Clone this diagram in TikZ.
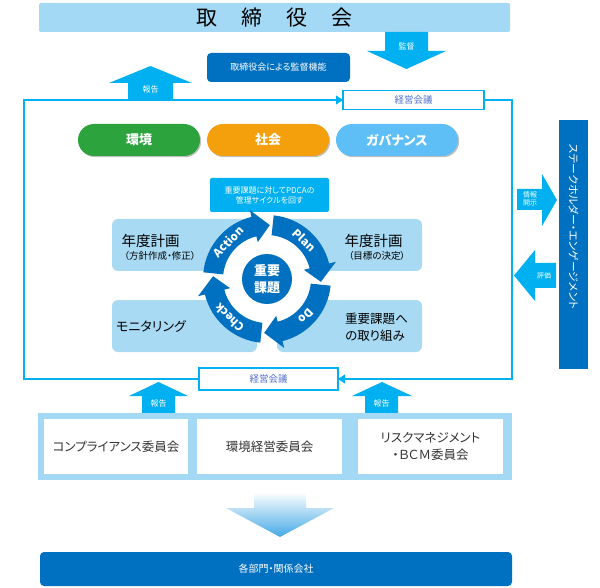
\documentclass[tikz,border=0pt]{standalone}
\usepackage{fontspec}
\setmainfont{Noto Sans CJK JP}[RawFeature={+palt}]
\usetikzlibrary{arrows.meta,shadows}
\definecolor{lb}{HTML}{A4D9F5}
\definecolor{qb}{HTML}{A8DAF4}
\definecolor{cy}{HTML}{00B0F0}
\definecolor{dk}{HTML}{0070C0}
\definecolor{gr}{HTML}{2CA33C}
\definecolor{og}{HTML}{F4A00C}
\definecolor{pb}{HTML}{5EBFF7}
\definecolor{kg}{HTML}{4F6FCB}
\definecolor{gb}{HTML}{45A9E6}
\definecolor{tx}{HTML}{333333}
\begin{document}
\begin{tikzpicture}[x=1pt,y=-1pt,
  rbox/.style={inner sep=0pt, outer sep=0pt, minimum width=#1},
  frame/.style={draw=cy, line width=1.2pt},
  ftip/.style={-{Triangle[length=7pt,width=9pt]}},
  wlab/.style={text=white, font=\fontsize{8}{9.5}\selectfont, align=center, inner sep=0pt},
  pill/.style={rbox=122pt, minimum height=32pt, rounded corners=16pt, text=white,
    font=\bfseries\fontsize{13}{15}\selectfont,
    drop shadow={shadow xshift=1.2pt, shadow yshift=-1.2pt, fill=black, opacity=.25}},
  quad/.style={rbox=#1, minimum height=52pt, fill=qb, rounded corners=6pt},
  comm/.style={rbox=#1, minimum height=55pt, fill=white, text=tx, align=center,
    font=\fontsize{12.5}{17}\selectfont},
  cyc/.style={text=white, font=\bfseries\fontsize{11.5}{13}\selectfont, inner sep=0pt}
]
\useasboundingbox (0,0) rectangle (600,588);

% --- top: board
\node[rbox=471pt, minimum height=29pt, fill=lb, rounded corners=2pt,
  font=\fontsize{21}{24}\selectfont] (tori) at (274.5,17.5)
  {取\hspace{24pt}締\hspace{24pt}役\hspace{24pt}会};
\node[rbox=143pt, minimum height=29pt, fill=dk, rounded corners=4pt, text=white,
  font=\fontsize{9}{11}\selectfont] (kinou) at (278.5,67.5) {取締役会による監督機能};

% --- meeting boxes
\node[rbox=141pt, minimum height=19pt, draw=cy, line width=1.2pt, fill=white, text=kg,
  font=\fontsize{9.5}{11}\selectfont] (kt) at (413.5,100) {経営会議};
\node[rbox=139pt, minimum height=22pt, draw=cy, line width=1.2pt, fill=white, text=kg,
  font=\fontsize{9.5}{11}\selectfont] (kb) at (268.5,379) {経営会議};
\coordinate (fTL) at (24,100);
\coordinate (fBR) at (512,379);
\draw[frame, ftip] (kb.west) -| (fTL) -- (kt.west);
\draw[frame, ftip] (kt.east) -| (fBR) -- (kb.east);

% --- supervision arrow (down)
\fill[cy] (385,32) -- (428,32) -- (428,51) -- (446,51) -- (406.5,69) -- (367,51) -- (385,51) -- cycle;
\node[wlab] (kantoku) at (406.5,46) {監督};
% --- report arrow (up, top)
\fill[cy] (128,100) -- (173,100) -- (173,83) -- (192,83) -- (150.5,66) -- (109,83) -- (128,83) -- cycle;
\node[wlab] (hk1) at (150.5,89.5) {報告};

% --- pills
\node[pill, fill=gr] (kankyo) at (139,140) {環境};
\node[pill, fill=og] (shakai) at (268,140) {社会};
\node[pill, fill=pb] (gov) at (397,140) {ガバナンス};

% --- PDCA note
\node[rbox=119pt, minimum height=34pt, fill=cy, rounded corners=2pt, text=white, align=center,
  font=\fontsize{8}{10}\selectfont] (pdca) at (269.5,195) {重要課題に対してPDCAの\\管理サイクルを回す};

% --- quadrants
\node[quad=146pt] (qtl) at (185,245) {};
\node[quad=145pt] (qtr) at (349.5,245) {};
\node[quad=145pt] (qbl) at (184.5,326) {};
\node[quad=145pt] (qbr) at (349.5,326) {};
\node[font=\fontsize{14.5}{16}\selectfont, inner sep=0pt] (t1a) at (150.5,241) {年度計画};
\node[font=\fontsize{9.5}{11}\selectfont, inner sep=0pt] (t1b) at (160,255.5) {（方針作成・修正）};
\node[font=\fontsize{14.5}{16}\selectfont, inner sep=0pt] (t2a) at (373.5,241) {年度計画};
\node[font=\fontsize{9.5}{11}\selectfont, inner sep=0pt] (t2b) at (377,255.5) {（目標の決定）};
\node[font=\fontsize{13}{15}\selectfont, inner sep=0pt] (t3) at (151,326) {モニタリング};
\node[font=\fontsize{12.5}{17}\selectfont, inner sep=0pt, align=left, anchor=west] (t4) at (345,327) {重要課題へ\\の取り組み};

% --- PDCA cycle
\fill[white] (267,279) circle[radius=44];
\begin{scope}[shift={(267,279)}, y=1pt]
  \foreach \s/\w in {84/Plan, -6/Do, -96/Check, 174/Action}{
    \fill[dk] (\s:64) arc[start angle=\s, end angle=\s-70, radius=64]
      -- (\s-70:71) -- (\s-87:54) -- (\s-70:38) -- (\s-70:44)
      arc[start angle=\s-70, end angle=\s, radius=44] -- cycle;
    \pgfmathsetmacro{\ta}{\s-38}
    \pgfmathsetmacro{\tr}{\s-128}
    \node[cyc, rotate=\tr] (c\w) at (\ta:54) {\w};
  }
  \node[circle, fill=dk, minimum size=50pt, inner sep=0pt, text=white, align=center,
    font=\bfseries\fontsize{13}{17}\selectfont] (core) at (0,0) {重要\\課題};
\end{scope}

% --- stakeholder
\node[rbox=29pt, minimum height=249pt, fill=dk] (stake) at (573.5,244.5) {};
\node[rotate=-90, text=white, font=\fontsize{10.8}{12}\selectfont, inner sep=0pt] (staket) at (573.5,227) {ステークホルダー・エンゲージメント};
\fill[cy] (517,189) -- (542,189) -- (542,174) -- (557,200) -- (542,226) -- (542,210) -- (517,210) -- cycle;
\node[wlab, font=\fontsize{7}{8.5}\selectfont] (joho) at (530,199) {情報\\開示};
\fill[cy] (556,263) -- (535,263) -- (535,250) -- (514,275.5) -- (535,301) -- (535,288) -- (556,288) -- cycle;
\node[wlab, font=\fontsize{7}{8.5}\selectfont] (hyoka) at (544,275.5) {評価};

% --- report arrows (bottom)
\fill[cy] (142,413) -- (175,413) -- (175,396) -- (188,396) -- (158.5,382) -- (129,396) -- (142,396) -- cycle;
\node[wlab] (hk2) at (158.5,403) {報告};
\fill[cy] (365,413) -- (398,413) -- (398,396) -- (412,396) -- (382,382) -- (352,396) -- (365,396) -- cycle;
\node[wlab] (hk3) at (381.5,403) {報告};

% --- committees
\node[rbox=474pt, minimum height=67pt, fill=lb] (band) at (275,446.5) {};
\node[comm=144pt] (c1) at (116,446.5) {コンプライアンス委員会};
\node[comm=145pt] (c2) at (269.5,446.5) {環境経営委員会};
\node[comm=145pt] (c3) at (430.5,446.5) {リスクマネジメント\\・ＢＣＭ委員会};

% --- gradient arrow
\shade[top color=white, bottom color=gb] (254,492) -- (306,492) -- (306,508) -- (334,508) -- (280,537) -- (226,508) -- (254,508) -- cycle;

% --- departments
\node[rbox=472pt, minimum height=34pt, fill=dk, rounded corners=4pt, text=white,
  font=\fontsize{10}{12}\selectfont] (bumon) at (276,569) {各部門・関係会社};
\end{tikzpicture}
\end{document}
